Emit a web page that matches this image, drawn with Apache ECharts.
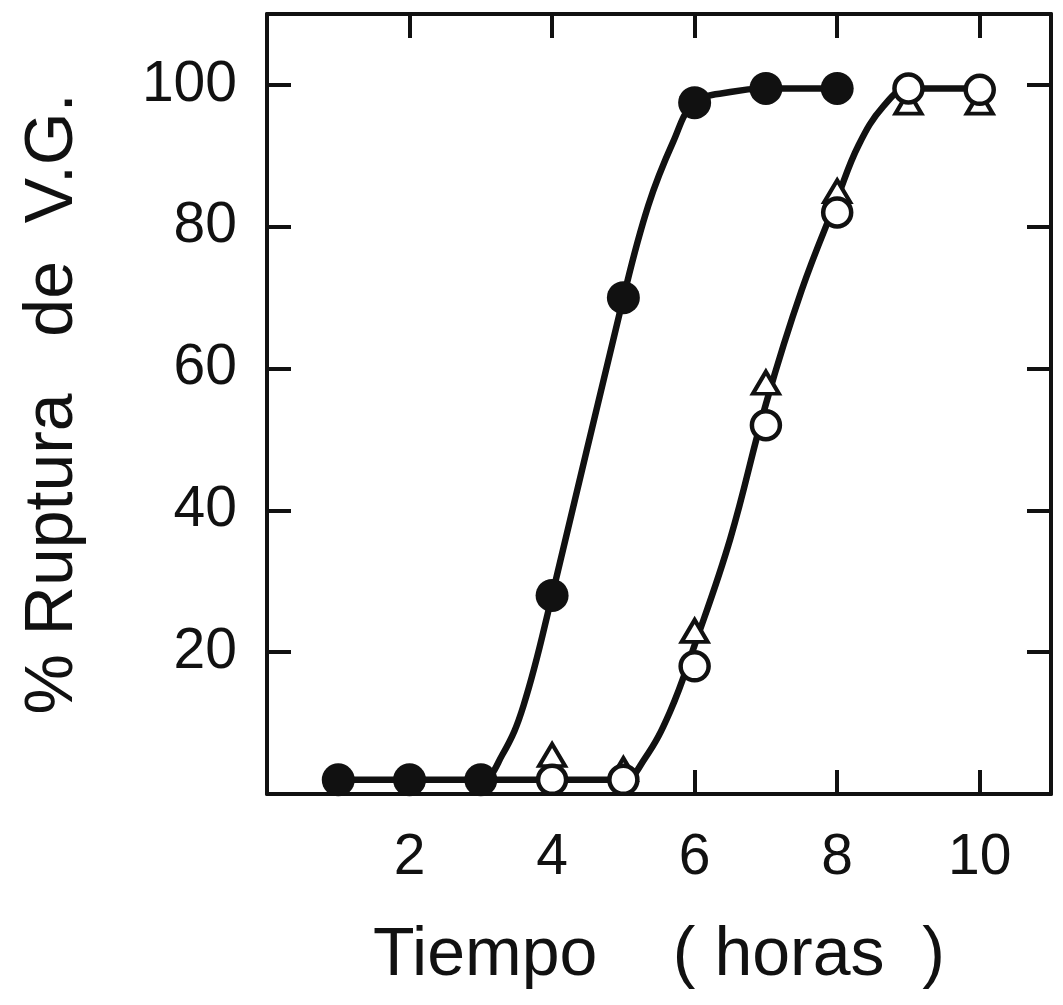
<!DOCTYPE html>
<html>
<head>
<meta charset="utf-8">
<script src="https://cdn.jsdelivr.net/npm/echarts@6/dist/echarts.min.js"></script>
<style>
  html, body { margin: 0; padding: 0; background: #ffffff; }
  #chart { width: 1063px; height: 1005px; }
</style>
</head>
<body>
<div id="chart"></div>
<script>
// Tick labels
const hoursTickLabels = ['2', '4', '6', '8', '10'];
const pctTickLabels = ['20', '40', '60', '80', '100'];

// Filled circles
const filledHours = [1, 2, 3, 4, 5, 6, 7, 8];
const filledPct = [2, 2, 2, 28, 70, 97.5, 99.5, 99.5];

// Open circles
const openHours = [4, 5, 6, 7, 8, 9, 10];
const openPct = [2, 2, 18, 52, 82, 99.5, 99.3];

// Open triangles
const triHours = [4, 5, 6, 7, 8, 9, 10];
const triPct = [5.5, 3.5, 23, 58, 85, 97.5, 97.5];

// Hand-drawn fitted curves, traced as (hours, %) knots
const curveAHours = [1, 2, 3, 3.3, 3.6, 4, 5, 5.35, 5.7, 6, 6.5, 7, 8];
const curveAPct = [2, 2, 2, 5.5, 12.5, 28, 70, 83, 92, 97.5, 99, 99.5, 99.5];
const curveBHours = [3, 4, 5, 5.3, 5.65, 6, 6.5, 7, 7.5, 8, 8.3, 8.65, 9, 10];
const curveBPct = [2, 2, 2, 5, 11.5, 21, 36, 55, 71, 84, 91.5, 97, 99.5, 99.5];

const INK = '#111111';
const FONT = '"Liberation Sans", Arial, sans-serif';

const zip = (xs, ys) => xs.map((x, i) => [x, ys[i]]);

const axisLine = { show: true, onZero: false, lineStyle: { color: INK, width: 4 } };
const axisTick = { show: true, inside: true, length: 24, lineStyle: { color: INK, width: 4 } };

const chart = echarts.init(document.getElementById('chart'), null, { renderer: 'canvas' });

chart.setOption({
  animation: false,
  backgroundColor: '#ffffff',
  grid: { left: 267, right: 12, top: 14, bottom: 211, containLabel: false },
  xAxis: [
    {
      type: 'value', position: 'bottom', min: 0, max: 11, interval: 2,
      axisLine, axisTick, splitLine: { show: false },
      axisLabel: {
        margin: 36, color: INK, fontFamily: FONT, fontSize: 57,
        formatter: v => hoursTickLabels.includes(String(v)) ? String(v) : ''
      },
      name: 'Tiempo    ( horas  )', nameLocation: 'middle', nameGap: 128,
      nameTextStyle: { color: INK, fontFamily: FONT, fontSize: 68 }
    },
    {
      type: 'value', position: 'top', min: 0, max: 11, interval: 2,
      axisLine, axisTick, splitLine: { show: false }, axisLabel: { show: false }
    }
  ],
  yAxis: [
    {
      type: 'value', position: 'left', min: 0, max: 110, interval: 20,
      axisLine, axisTick, splitLine: { show: false },
      axisLabel: {
        margin: 30, color: INK, fontFamily: FONT, fontSize: 57,
        formatter: v => pctTickLabels.includes(String(v)) ? String(v) : ''
      },
      name: '% Ruptura   de  V.G.', nameLocation: 'middle', nameGap: 180,
      nameTextStyle: { color: INK, fontFamily: FONT, fontSize: 68 }
    },
    {
      type: 'value', position: 'right', min: 0, max: 110, interval: 20,
      axisLine, axisTick, splitLine: { show: false }, axisLabel: { show: false }
    }
  ],
  series: [
    {
      type: 'line', data: zip(curveAHours, curveAPct), smooth: 0.4,
      symbol: 'none', lineStyle: { color: INK, width: 6.5 }, z: 2
    },
    {
      type: 'line', data: zip(curveBHours, curveBPct), smooth: 0.4,
      symbol: 'none', lineStyle: { color: INK, width: 6.5 }, z: 2
    },
    {
      type: 'scatter', data: zip(triHours, triPct), symbol: 'triangle',
      symbolSize: [26, 22],
      itemStyle: { color: '#ffffff', borderColor: INK, borderWidth: 4, opacity: 1 }, z: 3
    },
    {
      type: 'scatter', data: zip(openHours, openPct), symbol: 'circle',
      symbolSize: 28,
      itemStyle: { color: '#ffffff', borderColor: INK, borderWidth: 4.5, opacity: 1 }, z: 4
    },
    {
      type: 'scatter', data: zip(filledHours, filledPct), symbol: 'circle',
      symbolSize: 33,
      itemStyle: { color: INK, borderWidth: 0, opacity: 1 }, z: 5
    }
  ]
});
</script>
</body>
</html>
